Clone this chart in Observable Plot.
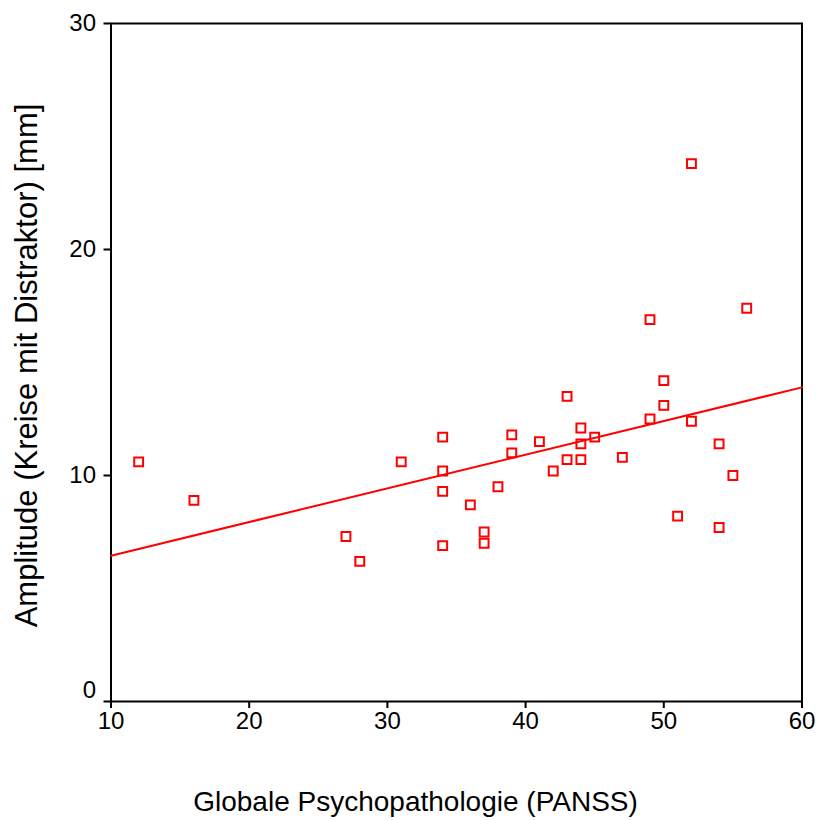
<!DOCTYPE html>
<html>
<head>
<meta charset="utf-8">
<script src="https://cdn.jsdelivr.net/npm/d3@7"></script>
<script src="https://cdn.jsdelivr.net/npm/@observablehq/plot@0.6"></script>
<style>
  html, body { margin: 0; padding: 0; background: #fff; }
  #chart svg { display: block; }
</style>
</head>
<body>
<div id="chart"></div>
<script>
const xLabel = "Globale Psychopathologie (PANSS)";
const yLabel = "Amplitude (Kreise mit Distraktor) [mm]";
const xTicks = [10, 20, 30, 40, 50, 60];
const yTicks = [10, 20, 30];
const yZeroTick = [0];

const panss = [12,16,27,28,31,34,34,34,34,36,37,37,38,39,39,41,42,43,43,44,44,44,45,47,49,49,50,50,51,52,52,54,54,55,56];
const amplitude = [10.6,8.9,7.3,6.2,10.6,11.7,10.2,9.3,6.9,8.7,7.5,7.0,9.5,11.8,11.0,11.5,10.2,13.5,10.7,12.1,11.4,10.7,11.7,10.8,16.9,12.5,14.2,13.1,8.2,23.8,12.4,11.4,7.7,10.0,17.4];

const fitX = [10, 60];
const fitY = [6.45, 13.9];

const points = panss.map((x, i) => ({x, y: amplitude[i]}));
const fit = fitX.map((x, i) => ({x, y: fitY[i]}));

const font = "'Liberation Sans', Arial, sans-serif";
const red = "#ff0000";

const chart = Plot.plot({
  width: 816,
  height: 820,
  marginLeft: 110.5,
  marginRight: 14.5,
  marginTop: 23,
  marginBottom: 119,
  style: {fontFamily: font, background: "#fff", color: "#000"},
  x: {domain: [10, 60]},
  y: {domain: [0, 30]},
  marks: [
    Plot.frame({stroke: "#000", strokeWidth: 2}),
    Plot.axisX(xTicks, {tickSize: 7, tickPadding: 3, strokeWidth: 2, fontSize: 24, label: null}),
    Plot.axisY(yTicks, {tickSize: 7, tickPadding: 8, strokeWidth: 2, fontSize: 24, label: null}),
    Plot.axisY(yZeroTick, {tickSize: 7, strokeWidth: 2, tickFormat: () => "", label: null}),
    Plot.text(yZeroTick, {y: d => d, text: d => String(d), frameAnchor: "left", textAnchor: "end", dx: -15, dy: -11, fontSize: 24}),
    Plot.line(fit, {x: "x", y: "y", stroke: red, strokeWidth: 2}),
    Plot.dot(points, {x: "x", y: "y", symbol: "square", r: 5, stroke: red, strokeWidth: 2, fill: "none"}),
    Plot.text([xLabel], {text: d => d, frameAnchor: "bottom", dx: -41, dy: 109, fontSize: 28}),
    Plot.text([yLabel], {text: d => d, frameAnchor: "left", textAnchor: "middle", rotate: -90, dx: -84, dy: 3, fontSize: 31})
  ]
});

document.getElementById("chart").appendChild(chart);
</script>
</body>
</html>
